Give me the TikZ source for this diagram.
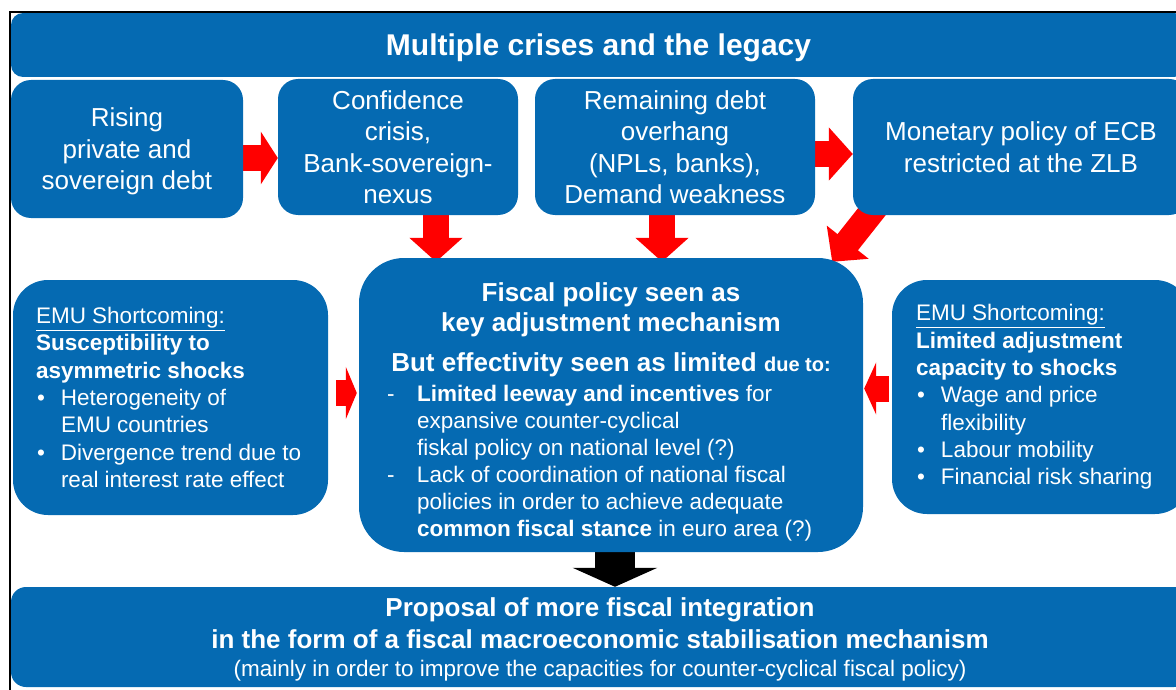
\documentclass[tikz,border=0pt]{standalone}
\usepackage{fontspec}
\setmainfont{Liberation Sans}
\usetikzlibrary{arrows.meta,positioning,backgrounds}
\definecolor{slideblue}{RGB}{5,106,178}
\definecolor{arrowred}{RGB}{255,0,0}
\newcommand{\fsize}[2]{\fontsize{#1}{#2}\selectfont}
\newcommand{\dashitem}{\par\hangindent=30pt\hangafter=1\noindent\makebox[30pt][l]{-}}
\newcommand{\dotitem}{\par\hangindent=25pt\hangafter=1\noindent\makebox[25pt][l]{\hspace{1pt}•}}
\tikzset{%
    % blue boxes of the slide
    block/.style = {fill=slideblue, text=white, rounded corners=#1,
    inner sep=0pt, align=center},
    block/.default = 20pt,
    % fat arrows between the boxes
    redarrow/.style = {draw=arrowred, line width=26pt,
    -{Triangle[width=52pt,length=#1]}},
    redarrow/.default = 22pt,
    blackarrow/.style = {draw=black, line width=40pt,
    -{Triangle[width=84pt,length=19pt]}},
}
\begin{document}
\begin{tikzpicture}[x=1pt, y=-1pt]
	\useasboundingbox (0,0) rectangle (1176,690);
	\node[block=12pt, minimum width=1175pt, minimum height=64pt, text depth=0pt,
	font=\bfseries\fsize{30}{36}] (title) at (598.5,45) {Multiple crises and the legacy};

	\node[block, minimum width=232pt, minimum height=138pt, text depth=0pt, font=\fsize{26}{31.5}]
	(rising) at (127,149) {Rising\\private and\\sovereign debt};
	\node[block, minimum width=240pt, minimum height=136pt, font=\fsize{26}{31.5}]
	(confidence) at (398,147) {Confidence\\crisis,\\Bank-sovereign-\\nexus};
	\node[block, minimum width=280pt, minimum height=136pt, font=\fsize{26}{31.5}]
	(overhang) at (675,147) {Remaining debt\\overhang\\(NPLs, banks),\\Demand weakness};
	\node[block, minimum width=336pt, minimum height=136pt, font=\fsize{26}{31.5}]
	(ecb) at (1021,147) {Monetary policy of ECB\\restricted at the ZLB};

	\node[block=45pt, minimum width=504pt, minimum height=294pt] (fiscal) at (611,405)
	{\parbox{448pt}{\vspace*{14pt}\centering\bfseries\fsize{26}{30}Fiscal policy seen as\\
	key adjustment mechanism\par\vspace{10pt}
	But effectivity seen as limited {\fsize{20}{30}due to:}\par\vspace{3pt}
	\raggedright\mdseries\fsize{22.5}{27}%
	\dashitem\textbf{Limited leeway and incentives} for\newline expansive counter-cyclical\newline
	fiskal policy on national level (?)
	\dashitem Lack of coordination of national fiscal\newline policies in order to achieve adequate\newline
	\textbf{common fiscal stance} in euro area (?)}};

	\node[block=35pt, minimum width=315pt, minimum height=235pt, font=\fsize{22.5}{27.3}]
	(asym) at (170.5,397.5) {\parbox{269pt}{\raggedright
	\underline{EMU Shortcoming:}\\\textbf{Susceptibility to}\\\textbf{asymmetric shocks}
	\dotitem Heterogeneity of\newline EMU countries
	\dotitem Divergence trend due to\newline real interest rate effect}};
	\node[block=35pt, minimum width=298pt, minimum height=234pt, font=\fsize{22.5}{27.3}]
	(capacity) at (1041,397) {\parbox{250pt}{\raggedright
	\underline{EMU Shortcoming:}\\\textbf{Limited adjustment}\\\textbf{capacity to shocks}
	\dotitem Wage and price\newline flexibility
	\dotitem Labour mobility
	\dotitem Financial risk sharing}};

	\node[block=15pt, minimum width=1178pt, minimum height=100pt, text depth=0pt,
	font=\bfseries\fsize{26}{32}] (proposal) at (600,637)
	{Proposal of more fiscal integration\\
	in the form of a fiscal macroeconomic stabilisation mechanism\\[-4pt]
	{\mdseries\fsize{22.5}{24}(mainly in order to improve the capacities for counter-cyclical fiscal policy)}};

	\begin{scope}[on background layer]
	\coordinate (a1) at ([yshift=-9pt]rising.east);
	\draw[redarrow=17pt] (a1) -- (a1 -| confidence.west);
	\coordinate (a2) at ([yshift=-7pt]overhang.east);
	\draw[redarrow=24pt] (a2) -- (a2 -| ecb.west);
	\coordinate (d1) at ([xshift=38pt]confidence.south);
	\draw[redarrow=24pt, shorten >=-4pt] (d1) -- (d1 |- fiscal.north);
	\coordinate (d2) at ([xshift=-13pt]overhang.south);
	\draw[redarrow=24pt, shorten >=-4pt] (d2) -- (d2 |- fiscal.north);
	\coordinate (d3) at ([xshift=25pt,yshift=11pt]ecb.south west);
	\coordinate (d4) at ([xshift=-31pt,yshift=-4pt]fiscal.north east);
	\draw[redarrow=25pt] (d3) -- (d4);
	\coordinate (s1) at ([yshift=4.5pt]asym.east);
	\draw[redarrow=11pt, shorten <=8pt, shorten >=2pt] (s1) -- (s1 -| fiscal.west);
	\coordinate (s2) at ([yshift=8.5pt]capacity.west);
	\draw[redarrow=12pt, shorten <=3pt, shorten >=1pt] (s2) -- (s2 -| fiscal.east);
	\coordinate (b1) at ([xshift=4pt]fiscal.south);
	\draw[blackarrow] (b1) -- (b1 |- proposal.north);
	\end{scope}

	% slide frame
	\draw[line width=1.5pt] (10,700) |- (1200,12);
\end{tikzpicture}
\end{document}
